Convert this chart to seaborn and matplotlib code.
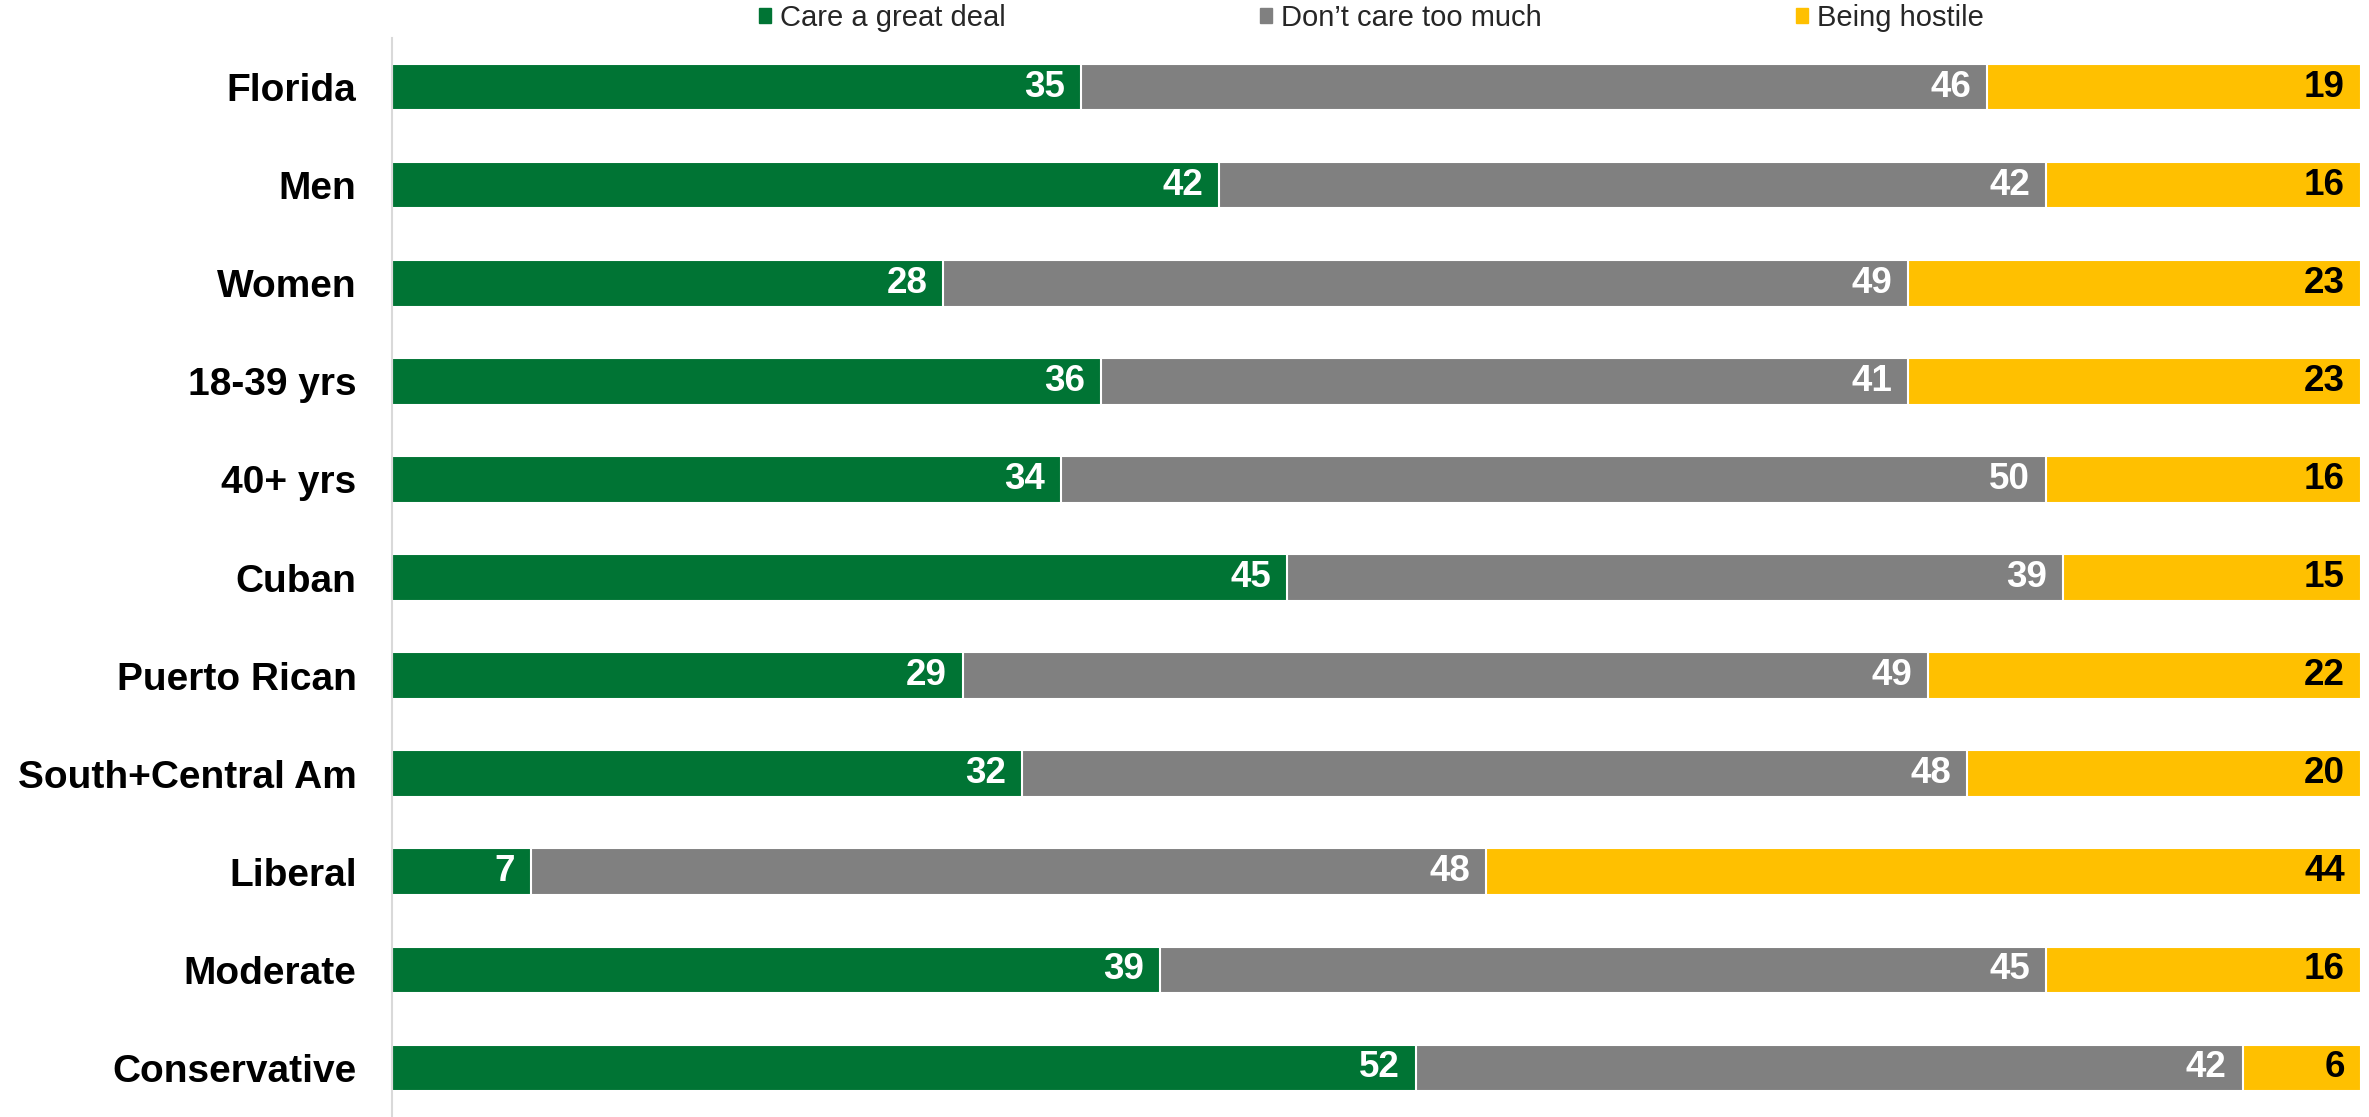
import matplotlib
matplotlib.use("Agg")
import matplotlib.pyplot as plt
import matplotlib.patches as mpatches
import seaborn as sns
import numpy as np
import pandas as pd

categories = ["Florida", "Men", "Women", "18-39 yrs", "40+ yrs", "Cuban", "Puerto Rican",
              "South+Central Am", "Liberal", "Moderate", "Conservative"]
care_great = [35, 42, 28, 36, 34, 45, 29, 32, 7, 39, 52]
dont_care = [46, 42, 49, 41, 50, 39, 49, 48, 48, 45, 42]
hostile = [19, 16, 23, 23, 16, 15, 22, 20, 44, 16, 6]
series_names = ["Care a great deal", "Don\u2019t care too much", "Being hostile"]

colors = ["#007434", "#808080", "#FFC000"]
label_colors = ["white", "white", "black"]

sns.set_style("white")
plt.rcParams["font.family"] = ["Liberation Sans", "DejaVu Sans"]

W, H, DPI = 2369, 1117, 100
fig = plt.figure(figsize=(W / DPI, H / DPI), dpi=DPI)
ax = fig.add_axes([392 / W, 0, (2361 - 392) / W, 1 - 38 / H])

vals = np.array([care_great, dont_care, hostile], dtype=float)
totals = vals.sum(axis=0)
pct = vals / totals * 100
cum = np.cumsum(pct, axis=0)

df = pd.DataFrame({"cat": categories,
                   "c1": cum[0], "c2": cum[1], "c3": cum[2]})

# draw cumulative layers, widest first
for col, color in zip(["c3", "c2", "c1"], colors[::-1]):
    sns.barplot(data=df, x=col, y="cat", orient="h", color=color, width=0.476,
                edgecolor="white", linewidth=1.5, saturation=1, ax=ax)

ax.set_xlim(0, 100)
ax.set_ylim(len(categories) - 0.5, -0.5)
ax.set_xlabel("")
ax.set_ylabel("")
ax.set_xticks([])
for s in ["top", "right", "bottom"]:
    ax.spines[s].set_visible(False)
ax.spines["left"].set_color("#d9d9d9")
ax.spines["left"].set_linewidth(1.5)
ax.tick_params(axis="y", length=6.5, width=1.5, color="#d9d9d9", pad=19,
               labelsize=28)
for t in ax.get_yticklabels():
    t.set_fontweight("bold")
    t.set_color("black")

# value labels
for si in range(3):
    for i in range(len(categories)):
        ax.annotate(f"{int(vals[si, i])}", xy=(cum[si, i], i), xytext=(-16, 0),
                    textcoords="offset pixels", ha="right", va="center",
                    fontsize=26.5, fontweight="bold", color=label_colors[si])

handles = [mpatches.Patch(color=c, label=n) for c, n in zip(colors, series_names)]
fig.legend(handles=handles, loc="center left", bbox_to_anchor=(759 / W, 1 - 18 / H),
           ncol=3, frameon=False, fontsize=21, handlelength=0.42, handleheight=0.42,
           handletextpad=0.31, columnspacing=8.7, borderpad=0, borderaxespad=0)

fig.savefig("out.png", dpi=DPI)
